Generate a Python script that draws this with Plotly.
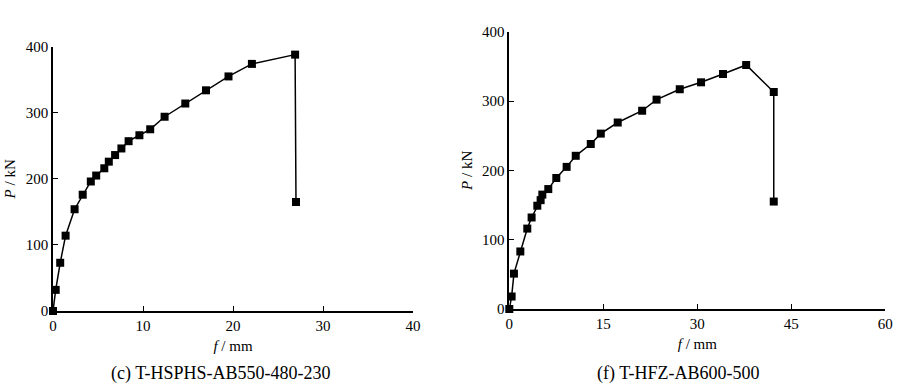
import plotly.graph_objects as go

# (c) T-HSPHS-AB550-480-230
c_f = [0, 0.3, 0.8, 1.4, 2.4, 3.3, 4.2, 4.8, 5.7, 6.2, 6.9, 7.6, 8.4, 9.6, 10.8, 12.4, 14.7, 17.0, 19.5, 22.1, 26.9, 27.0]
c_P = [0, 32, 73, 114, 154, 176, 196, 205, 216, 226, 236, 246, 257, 266, 275, 294, 314, 334, 355, 374, 388, 165]

# (f) T-HFZ-AB600-500
f_f = [0, 0.37, 0.74, 1.76, 2.87, 3.56, 4.47, 5.0, 5.27, 6.22, 7.5, 9.15, 10.6, 13.0, 14.6, 17.3, 21.2, 23.5, 27.2, 30.6, 34.1, 37.8, 42.2, 42.2]
f_P = [0, 18, 51, 83, 116, 132, 149, 157, 165, 173, 189, 205, 221, 238, 253, 269, 286, 302, 317, 327, 339, 352, 313, 155]

x_ticks_c = [0, 10, 20, 30, 40]
x_ticks_f = [0, 15, 30, 45, 60]
y_ticks = [0, 100, 200, 300, 400]

captions = ["(c) T-HSPHS-AB550-480-230", "(f) T-HFZ-AB600-500"]

W, H = 900, 387
fig = go.Figure()
mk = dict(symbol="square", size=8, color="black")
ln = dict(color="black", width=1.5)
fig.add_trace(go.Scatter(x=c_f, y=c_P, mode="lines+markers", marker=mk, line=ln, xaxis="x", yaxis="y", showlegend=False, cliponaxis=False))
fig.add_trace(go.Scatter(x=f_f, y=f_P, mode="lines+markers", marker=mk, line=ln, xaxis="x2", yaxis="y2", showlegend=False, cliponaxis=False))

font = dict(family="Liberation Serif", size=15, color="black")
capfont = dict(family="Liberation Serif", size=18, color="black")
ax_common = dict(showline=True, linecolor="black", linewidth=1.5, ticks="inside", ticklen=5,
                 tickcolor="black", tickwidth=1.2, showgrid=False, zeroline=False, tickfont=font,
                 mirror=False, automargin=False)

fig.update_layout(
    width=W, height=H, margin=dict(l=0, r=0, t=0, b=0),
    paper_bgcolor="white", plot_bgcolor="white", font=font,
    xaxis=dict(domain=[53/W, 413/W], range=[0, 40], tickvals=x_ticks_c, anchor="y",
               title=dict(text="<i>f</i> / mm", font=font, standoff=8), **ax_common),
    yaxis=dict(domain=[1-311/H, 1-46.7/H], range=[0, 400], tickvals=y_ticks, anchor="x",
               title=dict(text="<i>P</i> / kN", font=font, standoff=6), **ax_common),
    xaxis2=dict(domain=[509.3/W, 885.3/W], range=[0, 60], tickvals=x_ticks_f, anchor="y2",
                title=dict(text="<i>f</i> / mm", font=font, standoff=8), **ax_common),
    yaxis2=dict(domain=[1-309/H, 1-31.7/H], range=[0, 400], tickvals=y_ticks, anchor="x2",
                title=dict(text="<i>P</i> / kN", font=font, standoff=6), **ax_common),
    annotations=[
        dict(text=captions[0], x=221/W, y=1-373/H, xref="paper", yref="paper", showarrow=False,
             font=capfont, xanchor="center", yanchor="middle"),
        dict(text=captions[1], x=678/W, y=1-373/H, xref="paper", yref="paper", showarrow=False,
             font=capfont, xanchor="center", yanchor="middle"),
    ],
)
fig.write_html("out.html", config={"displayModeBar": False},
               post_script="document.body.style.margin='0px';document.body.style.overflow='hidden';")
